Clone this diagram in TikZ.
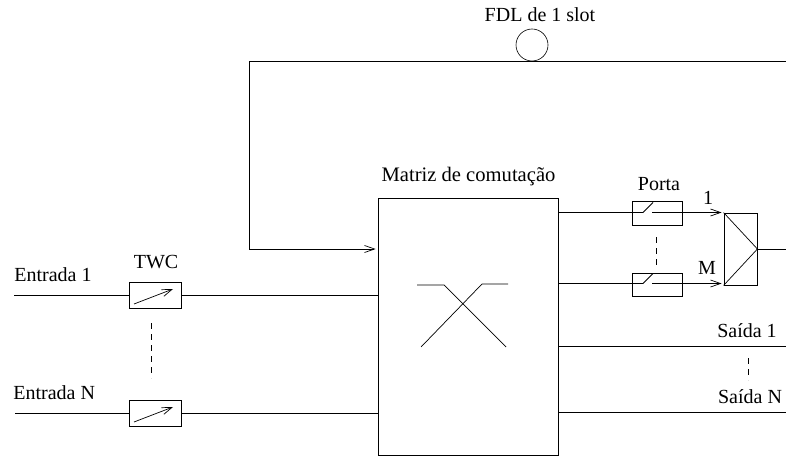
\documentclass[tikz,border=0pt]{standalone}
\usepackage{fontspec}
\setmainfont{Liberation Serif}
\usetikzlibrary{arrows.meta}
\usetikzlibrary{positioning}

\begin{document}
\begin{tikzpicture}[
    x=1pt,
    y=-1pt,
    line width=0.8pt,
    twcbox/.style={
        rectangle,
        draw,
        minimum width=52pt,
        minimum height=26pt,
        inner sep=0pt
    },
    gatebox/.style={
        rectangle,
        draw,
        minimum width=50pt,
        minimum height=23.5pt,
        inner sep=0pt
    },
    myarrow/.style={
        -{Straight Barb[length=10pt, width=7pt]},
        line width=0.7pt
    },
    thinline/.style={
        line width=0.7pt
    },
    dots/.style={
        dashed,
        dash pattern=on 6pt off 5pt,
        line width=0.6pt
    },
    tag/.style={
        font=\fontsize{20}{22}\selectfont,
        inner sep=0pt
    }
]
\useasboundingbox (0,0) rectangle (786,457);

% Define the main blocks
\node[draw, minimum width=180pt, minimum height=257pt, inner sep=0pt] (matrix) at (468,326.5) {};
\node[twcbox] (twc1) at (155,295) {};
\node[twcbox] (twc2) at (155,413) {};
\node[gatebox] (gate1) at (657,213.5) {};
\node[gatebox] (gate2) at (657,285) {};
\node[draw, minimum width=33pt, minimum height=72pt, inner sep=0pt] (comb) at (740.5,249) {};
\node[circle, draw, minimum size=32pt, inner sep=0pt, line width=0.6pt] (fdl) at (532,45) {};

% Labels
\node[tag] (fdltext) at (540,15) {FDL de 1 slot};
\node[tag, font=\fontsize{20.6}{22}\selectfont] (matrixtext) at (468.5,177) {Matriz de comutação};
\node[tag] (twctext) at (156,262) {TWC};
\node[tag] (portatext) at (659,184) {Porta};
\node[tag, anchor=west] (in1) at (14,275) {Entrada 1};
\node[tag, anchor=west] (in2) at (13,393) {Entrada N};
\node[tag] (out1) at (747,331) {Saída 1};
\node[tag] (out2) at (750,397) {Saída N};
\node[tag] (port1) at (708,198) {1};
\node[tag] (port2) at (707,268) {M};

% Free ends of the lines
\coordinate (start1) at (14,295);
\coordinate (start2) at (15,413);
\coordinate (end0) at (786,249);
\coordinate (end1) at (786,346);
\coordinate (end2) at (786,412);
\coordinate (loopr) at (786,61);
\coordinate (loopl) at (249,61);
\coordinate (loopd) at (249,249);

% Inputs
\draw (start1) -- (twc1.west);
\draw (start2) -- (twc2.west);
\draw (twc1.east) -- (twc1.east -| matrix.west);
\draw (twc2.east) -- (twc2.east -| matrix.west);
\draw[dots] (151,323) -- (151,378);

% Feedback loop with the FDL
\draw (loopr) -- (loopl) -- (loopd);
\draw[myarrow] (loopd) -- ([xshift=-2pt]loopd -| matrix.west);

% Outputs
\draw (end1 -| matrix.east) -- (end1);
\draw (end2 -| matrix.east) -- (end2);
\draw[dots] (748,358) -- (748,380);

% Gates and combiner
\coordinate (sw1a) at (643,212.5);
\coordinate (sw1b) at (652,212.5);
\coordinate (sw2a) at (643,283.5);
\coordinate (sw2b) at (652,283.5);
\draw (sw1a -| matrix.east) -- (sw1a) -- ++(10,-10);
\draw (sw2a -| matrix.east) -- (sw2a) -- ++(10,-10);
\draw[myarrow] (sw1b) -- ([xshift=-2pt]sw1b -| comb.west);
\draw[myarrow] (sw2b) -- ([xshift=-2pt]sw2b -| comb.west);
\draw[dots] (656,237) -- (656,267);
\draw[thinline] (comb.north west) -- (comb.east) -- (comb.south west);
\draw (comb.east) -- (end0);

% Arrows inside the TWC boxes
\draw[myarrow] ([shift={(-21,9)}]twc1.center) -- ([shift={(18,-6)}]twc1.center);
\draw[myarrow] ([shift={(-21,9)}]twc2.center) -- ([shift={(18,-6)}]twc2.center);

% Crossing inside the matrix
\draw[thinline] (417,285) -- (444,285) -- (506,347);
\draw[thinline] (421,347) -- (482,284) -- (508,284);

\end{tikzpicture}
\end{document}
